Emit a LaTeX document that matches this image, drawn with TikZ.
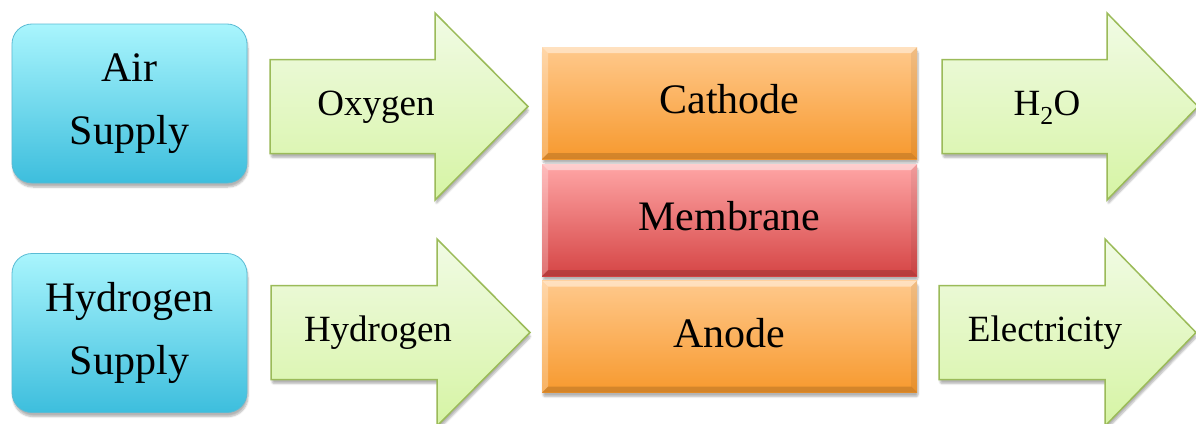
\documentclass[tikz,border=0pt]{standalone}
\usepackage{fontspec}
\setmainfont{Liberation Serif}
\newfontfamily\labelface{Liberation Serif}
\usetikzlibrary{shadows.blur}

\definecolor{cyanTop}{HTML}{A9F5FD}
\definecolor{cyanBot}{HTML}{3DBEDD}
\definecolor{cyanEdge}{HTML}{5ABBD4}
\definecolor{orangeTop}{HTML}{FFC98C}
\definecolor{orangeBot}{HTML}{F7992E}
\definecolor{memTop}{HTML}{FFA6A6}
\definecolor{memBot}{HTML}{D54545}
\definecolor{greenTop}{HTML}{F1FBE5}
\definecolor{greenBot}{HTML}{D6F4A4}
\definecolor{greenEdge}{HTML}{9BBB59}

\tikzset{
  softshadow/.style={blur shadow={shadow xshift=1pt, shadow yshift=-4pt,
      shadow blur steps=6, shadow blur extra rounding=2pt, shadow opacity=30}},
  supply/.style={rounded corners=20pt, minimum width=235pt, minimum height=159pt,
    inner sep=0pt, top color=cyanTop, bottom color=cyanBot, draw=cyanEdge,
    line width=0.8pt, align=center, font=\labelface\fontsize{42}{63}\selectfont, softshadow},
  layer/.style 2 args={minimum width=375pt, minimum height=112pt, inner sep=0pt,
    top color=#1, bottom color=#2, font=\labelface\fontsize{42}{50}\selectfont,
    text height=30pt, text depth=9pt, softshadow,
    path picture={
      \fill[white,opacity=.45] (path picture bounding box.north west)
        -- (path picture bounding box.north east)
        -- ([xshift=-6pt,yshift=-6pt]path picture bounding box.north east)
        -- ([xshift=6pt,yshift=-6pt]path picture bounding box.north west) -- cycle;
      \fill[white,opacity=.25] (path picture bounding box.north west)
        -- (path picture bounding box.south west)
        -- ([xshift=6pt,yshift=6pt]path picture bounding box.south west)
        -- ([xshift=6pt,yshift=-6pt]path picture bounding box.north west) -- cycle;
      \fill[black,opacity=.06] (path picture bounding box.north east)
        -- (path picture bounding box.south east)
        -- ([xshift=-6pt,yshift=6pt]path picture bounding box.south east)
        -- ([xshift=-6pt,yshift=-6pt]path picture bounding box.north east) -- cycle;
      \fill[black,opacity=.14] (path picture bounding box.south west)
        -- (path picture bounding box.south east)
        -- ([xshift=-6pt,yshift=6pt]path picture bounding box.south east)
        -- ([xshift=6pt,yshift=6pt]path picture bounding box.south west) -- cycle;
    }},
  flowshape/.style={top color=greenTop, bottom color=greenBot, draw=greenEdge,
    line width=1.5pt, line join=miter, softshadow},
  flowtext/.style={font=\labelface\fontsize{37}{44}\selectfont, inner sep=0pt,
    text height=26pt, text depth=8pt}
}

% block arrow: name, tail x, head base x, tip x, centre y, text x, text
\newcommand\blockarrow[7]{%
  \path[flowshape] (#2,#5-47) -- (#3,#5-47) -- (#3,#5-93.5) -- (#4,#5)
    -- (#3,#5+93.5) -- (#3,#5+47) -- (#2,#5+47) -- cycle;
  \node[flowtext] (#1) at (#6,#5) {#7};
}

\begin{document}
\begin{tikzpicture}[x=1pt, y=-1pt]
  \useasboundingbox (0,0) rectangle (1196,423);
  \clip (0,0) rectangle (1196,423);

  % supplies
  \node[supply] (air) at (129.5,103.5) {Air\\Supply};
  \node[supply] (h2supply) at (129.5,333) {Hydrogen\\Supply};

  % inflows and outflows
  \blockarrow{oxygen}{270}{435}{528}{106.5}{376}{Oxygen}
  \blockarrow{hydrogen}{271}{437}{530}{332.5}{378}{Hydrogen}
  \blockarrow{water}{942}{1107}{1198}{106.5}{1047}{H\textsubscript{2}O}
  \blockarrow{power}{939}{1105}{1196}{332.5}{1045}{Electricity}

  % fuel cell stack
  \node[layer={orangeTop}{orangeBot}] (cathode) at (729.5,103) {Cathode};
  \node[layer={memTop}{memBot}] (membrane) at (729.5,220) {Membrane};
  \node[layer={orangeTop}{orangeBot}] (anode) at (729.5,336.5) {Anode};
\end{tikzpicture}
\end{document}
